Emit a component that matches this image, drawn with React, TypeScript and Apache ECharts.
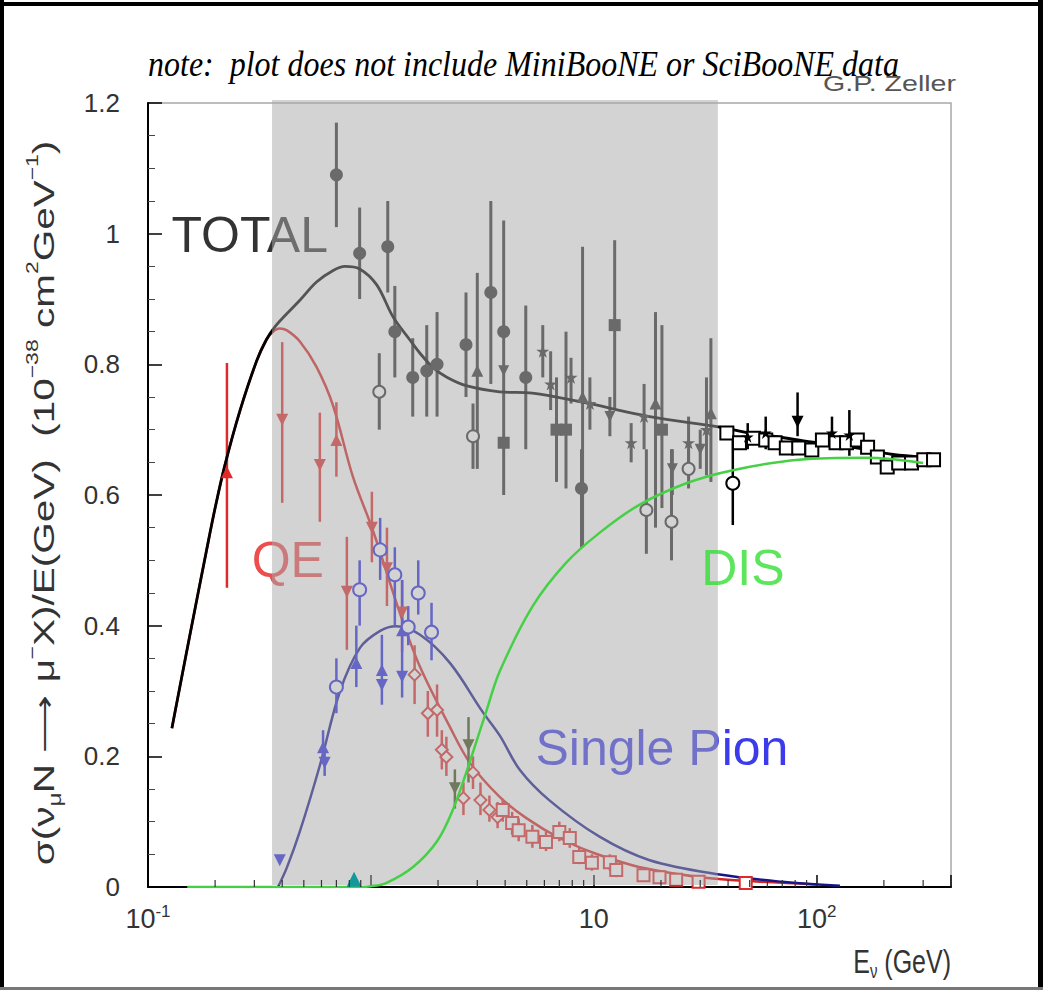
import React, { useEffect, useRef } from "react";
import * as echarts from "echarts";

// ---------------- axis ranges / ticks ----------------
const X_MIN = 0.1;
const X_MAX = 400;
const Y_MIN = 0;
const Y_MAX = 1.2;
const Y_STEP = 0.2;
// labelled decades: exponent -> superscript
const xTickExponents = [-1, 1, 2];
const xTickSupers = ["-1", "", "2"];
const minorTickValues = [
  0.2, 0.3, 0.4, 0.5, 0.6, 0.7, 0.8, 0.9,
  2, 3, 4, 5, 6, 7, 8, 9,
  20, 30, 40, 50, 60, 70, 80, 90,
  200, 300,
];
const shadedRange = [0.36, 36];

// ---------------- model curves [E, sigma/E] ----------------
const totalCurve = [
  [0.128, 0.243], [0.154, 0.385], [0.183, 0.515], [0.2, 0.58], [0.221, 0.645],
  [0.258, 0.728], [0.307, 0.805], [0.34, 0.838], [0.37, 0.857], [0.41, 0.874],
  [0.48, 0.898], [0.57, 0.926], [0.68, 0.944], [0.764, 0.95], [0.89, 0.946],
  [1.06, 0.922], [1.26, 0.872], [1.49, 0.838], [1.66, 0.817], [1.9, 0.795],
  [2.2, 0.78], [2.7, 0.767], [3.78, 0.758], [5.3, 0.756], [8.9, 0.742],
  [17.8, 0.72], [36.7, 0.704], [50, 0.695], [70, 0.688], [100, 0.68],
  [150, 0.672], [220, 0.662], [300, 0.658],
];
const qeCurve = [
  [0.128, 0.243], [0.154, 0.385], [0.183, 0.515], [0.2, 0.58], [0.221, 0.645],
  [0.258, 0.728], [0.307, 0.805], [0.34, 0.838], [0.37, 0.852], [0.39, 0.855],
  [0.42, 0.852], [0.48, 0.835], [0.57, 0.796], [0.676, 0.737], [0.83, 0.628],
  [1.02, 0.546], [1.35, 0.419], [1.66, 0.337], [2.26, 0.245], [2.78, 0.19],
  [3.78, 0.138], [5, 0.105], [7, 0.075], [10, 0.052], [15, 0.033], [20, 0.024],
  [30, 0.015], [50, 0.009], [100, 0.004],
];
const pionCurve = [
  [0.383, 0], [0.42, 0.03], [0.48, 0.085], [0.59, 0.186], [0.727, 0.3],
  [0.893, 0.366], [1.1, 0.392], [1.3, 0.399], [1.66, 0.386], [2.26, 0.343],
  [3.17, 0.268], [3.78, 0.232], [4.66, 0.179], [6.3, 0.133], [10.6, 0.077],
  [17.8, 0.041], [36.7, 0.019], [70, 0.008], [127, 0.002],
];
const disCurve = [
  [0.15, 0], [0.9, 0], [1.0, 0.001], [1.17, 0.006], [1.55, 0.031], [1.98, 0.07],
  [2.33, 0.118], [2.7, 0.179], [3.3, 0.27], [3.78, 0.33], [5.3, 0.429],
  [7.5, 0.496], [10.6, 0.542], [16, 0.585], [26, 0.618], [42, 0.638],
  [83, 0.654], [167, 0.657], [300, 0.649],
];

// ---------------- measurements [E, value, low, high] ----------------
const totFilledCircles = [
  [0.7, 1.09, 1.01, 1.17], [0.89, 0.97, 0.9, 1.04], [1.19, 0.98, 0.91, 1.05],
  [1.28, 0.85, 0.78, 0.92], [1.54, 0.78, 0.72, 0.84], [1.78, 0.79, 0.72, 0.86],
  [1.98, 0.8, 0.72, 0.88], [2.67, 0.83, 0.75, 0.91], [3.45, 0.91, 0.77, 1.05],
  [3.94, 0.85, 0.6, 1.02], [4.95, 0.78, 0.67, 0.89], [8.8, 0.61, 0.52, 0.67],
];
const totOpenCircles = [
  [1.09, 0.758, 0.7, 0.817], [2.87, 0.69, 0.64, 0.74], [17.2, 0.577, 0.51, 0.67],
  [22.3, 0.559, 0.5, 0.67], [26.6, 0.64, 0.61, 0.67],
];
const totFilledSquares = [
  [3.94, 0.68], [6.8, 0.7, 0.62, 0.78], [7.5, 0.7, 0.61, 0.85],
  [12.4, 0.86, 0.73, 0.99], [20.2, 0.7, 0.58, 0.86],
];
const totTrianglesUp = [
  [3.0, 0.79, 0.64, 0.94], [8.9, 0.75, 0.52, 0.98], [18.9, 0.74, 0.55, 0.88],
  [33.5, 0.725, 0.62, 0.84],
];
const totTrianglesDown = [
  [3.94, 0.79], [11.8, 0.72, 0.69, 0.75], [22.5, 0.64, 0.6, 0.67], [30, 0.67, 0.64, 0.7],
];
const totStars = [
  [5.9, 0.82, 0.78, 0.86], [6.4, 0.77, 0.73, 0.82], [7.9, 0.78, 0.74, 0.81],
  [9.6, 0.74, 0.7, 0.78], [14.7, 0.68, 0.65, 0.71], [16.8, 0.72, 0.67, 0.77],
  [26.6, 0.68, 0.63, 0.72], [32, 0.7, 0.63, 0.78],
];
const highOpenCircle = [[42, 0.618, 0.554, 0.684]];
const highOpenSquares = [
  [39.5, 0.695], [45, 0.68], [52, 0.687], [59, 0.684], [65, 0.68], [73, 0.672],
  [83, 0.672], [95, 0.669], [106, 0.684], [122, 0.68], [136, 0.68], [152, 0.684],
  [169, 0.673], [187, 0.658], [207, 0.643], [233, 0.649], [266, 0.649],
  [302, 0.654], [334, 0.654],
];
const highStars = [
  [49, 0.689, 0.67, 0.71], [59, 0.695, 0.67, 0.72], [117, 0.695, 0.67, 0.72],
  [140, 0.692, 0.66, 0.73],
];
const highTriangleDown = [[82, 0.712, 0.69, 0.757]];

const qeTrianglesDown = [
  [0.4, 0.715, 0.588, 0.834], [0.59, 0.646, 0.559, 0.726], [0.78, 0.452, 0.363, 0.536],
  [1.01, 0.55, 0.497, 0.605], [1.18, 0.488, 0.43, 0.55], [1.38, 0.42, 0.36, 0.47],
];
const qeTrianglesUp = [[0.226, 0.635, 0.458, 0.802], [0.7, 0.684, 0.628, 0.742]];
const qeDiamonds = [
  [1.57, 0.325, 0.28, 0.37], [1.8, 0.266, 0.23, 0.3], [1.98, 0.271, 0.23, 0.31],
  [2.08, 0.21, 0.18, 0.24], [2.18, 0.199, 0.17, 0.23], [2.6, 0.136, 0.11, 0.16],
  [2.87, 0.175, 0.15, 0.2], [3.1, 0.133, 0.11, 0.16], [3.4, 0.118, 0.1, 0.14],
  [3.7, 0.107, 0.09, 0.13],
];
const qeSquares = [
  [3.9, 0.118, 0.1, 0.135], [4.3, 0.098, 0.08, 0.115], [4.6, 0.087, 0.07, 0.105],
  [5.3, 0.077, 0.06, 0.095], [6.1, 0.069, 0.055, 0.085], [7.0, 0.084, 0.07, 0.1],
  [7.8, 0.075, 0.06, 0.09], [8.6, 0.046, 0.035, 0.06], [9.8, 0.037, 0.025, 0.05],
  [11.8, 0.038, 0.025, 0.05], [12.6, 0.026, 0.015, 0.04], [16.7, 0.018], [19.7, 0.015],
  [23.4, 0.011], [29.5, 0.008], [48, 0.006],
];

const pionTrianglesDown = [
  [0.39, 0.041], [0.62, 0.19, 0.17, 0.21], [1.12, 0.309, 0.279, 0.386],
  [1.38, 0.322, 0.29, 0.47],
];
const pionTrianglesUp = [
  [0.61, 0.214, 0.19, 0.24], [0.86, 0.343, 0.306, 0.4], [1.12, 0.332], [1.38, 0.393],
];
const pionOpenCircles = [
  [0.7, 0.306, 0.266, 0.35], [0.89, 0.455, 0.4, 0.5], [1.1, 0.516, 0.47, 0.565],
  [1.28, 0.478, 0.4, 0.52], [1.47, 0.398, 0.37, 0.43], [1.63, 0.45, 0.417, 0.5],
  [1.87, 0.39, 0.347, 0.435],
];
const disTriangles = [[2.74, 0.217, 0.16, 0.26], [2.38, 0.151, 0.12, 0.18]];
const tealTriangle = [[0.84, 0.012]];

// ---------------- curve labels ----------------
const labelTexts = ["TOTAL", "QE", "Single Pion", "DIS"];
const labelAnchors = [[0.286, 0.998], [0.424, 0.5], [20.2, 0.213], [46.6, 0.488]];
const labelColors = ["#000000", "#e82020", "#0a0ae6", "#35e035"];

const STAR =
  "path://M50,0L61.8,35.3L99,35.3L69,57.1L80.4,92.7L50,70.9L19.6,92.7L31,57.1L1,35.3L38.2,35.3Z";

const FONT = "Liberation Sans";
const C_TOT = "#2c2c2c";
const C_RED = "#e02a2a";
const C_BLUE = "#2424e0";

const pts = (d: number[][]) => d.map((p) => [p[0], p[1]]);
const bars = (d: number[][]) => d.filter((p) => p.length >= 4).map((p) => [p[0], p[2], p[3]]);

function errSeries(d: number[][], color: string, width: number, z: number) {
  return {
    type: "custom",
    silent: true,
    z,
    data: bars(d),
    encode: { x: 0, y: [1, 2] },
    renderItem: (_p: any, api: any) => {
      const x = api.value(0);
      const a = api.coord([x, api.value(1)]);
      const b = api.coord([x, api.value(2)]);
      return {
        type: "line",
        shape: { x1: a[0], y1: a[1], x2: b[0], y2: b[1] },
        style: { stroke: color, lineWidth: width },
      };
    },
  };
}

function markSeries(
  d: number[][], symbol: string, size: number, color: string, z: number,
  rotate = 0, borderWidth = 0
) {
  return {
    type: "scatter",
    silent: true,
    z,
    data: pts(d),
    symbol,
    symbolSize: size,
    symbolRotate: rotate,
    itemStyle: { color, borderColor: color, borderWidth, opacity: 1 },
  };
}

function curveSeries(d: number[][], color: string, width: number, z: number) {
  return {
    type: "line",
    silent: true,
    z,
    data: d,
    smooth: 0.35,
    showSymbol: false,
    symbol: "none",
    lineStyle: { color, width },
  };
}

function labelSeries(i: number, z: number) {
  return {
    type: "scatter",
    silent: true,
    z,
    data: [labelAnchors[i]],
    symbolSize: 1,
    itemStyle: { color: "rgba(0,0,0,0)" },
    label: {
      show: true,
      position: "inside",
      formatter: labelTexts[i],
      fontFamily: FONT,
      fontSize: 50,
      color: labelColors[i],
    },
  };
}

export default function App() {
  const ref = useRef<HTMLDivElement>(null);

  useEffect(() => {
    const chart = echarts.init(ref.current!, null, { renderer: "svg" });

    const option: any = {
      animation: false,
      backgroundColor: "#ffffff",
      grid: {
        left: 148,
        top: 103,
        width: 803,
        height: 784,
        show: true,
        borderColor: "#a8a8a8",
        borderWidth: 1.5,
        backgroundColor: "transparent",
        containLabel: false,
        outerBoundsMode: "none",
      },
      xAxis: {
        type: "log",
        logBase: 10,
        min: X_MIN,
        max: X_MAX,
        axisLine: { show: true, lineStyle: { color: "#000", width: 2 } },
        axisTick: { show: true, inside: true, length: 12, lineStyle: { color: "#000", width: 1.5 } },
        splitLine: { show: false },
        axisLabel: {
          margin: 16,
          color: "#333",
          formatter: (v: number) => {
            const e = Math.round(Math.log10(v));
            const k = xTickExponents.indexOf(e);
            if (k < 0) return "";
            return xTickSupers[k] ? `{b|10}{s|${xTickSupers[k]}}` : "{b|10}";
          },
          rich: {
            b: { fontSize: 27, fontFamily: FONT, color: "#333", lineHeight: 32 },
            s: { fontSize: 17, fontFamily: FONT, color: "#333", lineHeight: 14, verticalAlign: "top" },
          },
        },
      },
      yAxis: {
        type: "value",
        min: Y_MIN,
        max: Y_MAX,
        interval: Y_STEP,
        axisLine: { show: true, lineStyle: { color: "#000", width: 2 } },
        axisTick: { show: true, inside: true, length: 14, lineStyle: { color: "#000", width: 1.5 } },
        minorTick: { show: true, splitNumber: 4, length: 7, lineStyle: { color: "#444", width: 1 } },
        splitLine: { show: false },
        minorSplitLine: { show: false },
        axisLabel: { fontSize: 26, fontFamily: FONT, color: "#333", margin: 28 },
      },
      graphic: [
        {
          type: "text",
          x: 148,
          y: 64,
          scaleY: 1.12,
          z: 10,
          style: {
            text: "note:  plot does not include MiniBooNE or SciBooNE data",
            fontFamily: "Liberation Serif",
            fontStyle: "italic",
            fontSize: 32,
            fill: "#000",
            align: "left",
            textAlign: "left",
            verticalAlign: "middle",
            textVerticalAlign: "middle",
          },
        },
        {
          type: "text",
          x: 956,
          y: 83,
          scaleX: 1.3,
          z: 10,
          style: {
            text: "G.P. Zeller",
            fontFamily: FONT,
            fontSize: 22,
            fill: "#555",
            align: "right",
            textAlign: "right",
            verticalAlign: "middle",
            textVerticalAlign: "middle",
          },
        },
        {
          type: "text",
          x: 44,
          y: 503,
          rotation: Math.PI / 2,
          scaleX: 1.35,
          z: 10,
          style: {
            text: "σ(ν{sub|μ}N ⟶ μ{sup|−}X)/E(GeV)  (10{sup|−38} cm{sup|2}GeV{sup|−1})",
            fontFamily: FONT,
            fontSize: 30,
            lineHeight: 40,
            fill: "#333",
            align: "center",
            textAlign: "center",
            verticalAlign: "middle",
            textVerticalAlign: "middle",
            rich: {
              sub: { fontFamily: FONT, fontSize: 18, fill: "#333", lineHeight: 22, verticalAlign: "bottom" },
              sup: { fontFamily: FONT, fontSize: 17, fill: "#333", lineHeight: 22, verticalAlign: "top" },
            },
          },
        },
        {
          type: "text",
          x: 951,
          y: 962,
          scaleY: 1.3,
          z: 10,
          style: {
            text: "E{sub|ν} (GeV)",
            fontFamily: FONT,
            fontSize: 25,
            lineHeight: 30,
            fill: "#333",
            align: "right",
            textAlign: "right",
            verticalAlign: "middle",
            textVerticalAlign: "middle",
            rich: {
              sub: { fontFamily: FONT, fontSize: 15, fill: "#333", lineHeight: 16, verticalAlign: "bottom" },
            },
          },
        },
      ],
      series: [
        // model curves (below the shaded overlay)
        curveSeries(qeCurve, "#d42424", 2.5, 2),
        curveSeries(pionCurve, "#16168a", 2.5, 2),
        curveSeries(totalCurve, "#000000", 2.8, 3),

        // error bars
        errSeries([...totFilledCircles, ...totOpenCircles, ...totFilledSquares, ...totTrianglesUp,
          ...totTrianglesDown, ...totStars], C_TOT, 3, 3),
        errSeries([...highOpenCircle, ...highStars, ...highTriangleDown], "#000", 2.5, 3),
        errSeries([...qeTrianglesDown, ...qeTrianglesUp, ...qeDiamonds, ...qeSquares], C_RED, 2.5, 3),
        errSeries([...pionTrianglesDown, ...pionTrianglesUp, ...pionOpenCircles], C_BLUE, 2.5, 3),
        errSeries(disTriangles, "#3a4a10", 2.5, 3),

        // markers
        markSeries(totFilledCircles, "circle", 13, C_TOT, 4),
        markSeries(totOpenCircles, "emptyCircle", 12, C_TOT, 4, 0, 2),
        markSeries(totFilledSquares, "rect", 12, C_TOT, 4),
        markSeries(totTrianglesUp, "triangle", 12, C_TOT, 4),
        markSeries(totTrianglesDown, "triangle", 11, C_TOT, 4, 180),
        markSeries(totStars, STAR, 13, C_TOT, 4),
        markSeries(highOpenSquares, "emptyRect", 13, "#000", 4, 0, 2),
        markSeries(highOpenCircle, "emptyCircle", 13, "#000", 4, 0, 2.5),
        markSeries(highStars, STAR, 12, "#000", 4),
        markSeries(highTriangleDown, "triangle", 12, "#000", 4, 180),
        markSeries(qeTrianglesDown, "triangle", 12, C_RED, 4, 180),
        markSeries(qeTrianglesUp, "triangle", 12, C_RED, 4),
        markSeries(qeDiamonds, "emptyDiamond", 12, C_RED, 4, 0, 2),
        markSeries(qeSquares, "emptyRect", 12, C_RED, 4, 0, 2.5),
        markSeries(pionTrianglesDown, "triangle", 12, C_BLUE, 4, 180),
        markSeries(pionTrianglesUp, "triangle", 12, C_BLUE, 4),
        markSeries(pionOpenCircles, "emptyCircle", 13, C_BLUE, 4, 0, 2),
        markSeries(disTriangles, "triangle", 12, "#3a4a10", 4, 180),

        // curve labels under the overlay
        labelSeries(0, 4),
        labelSeries(1, 4),
        labelSeries(2, 4),

        // shaded energy range overlay
        {
          type: "custom",
          silent: true,
          z: 5,
          data: [[shadedRange[0], Y_MIN, shadedRange[1], Y_MAX]],
          encode: { x: [0, 2], y: [1, 3] },
          renderItem: (_p: any, api: any) => {
            const a = api.coord([api.value(0), api.value(3)]);
            const b = api.coord([api.value(2), api.value(1)]);
            return {
              type: "rect",
              shape: { x: a[0], y: a[1] - 3, width: b[0] - a[0], height: b[1] - a[1] + 1 },
              style: { fill: "rgba(168,168,168,0.5)" },
            };
          },
        },

        // above overlay
        curveSeries(disCurve, "#45d045", 2.5, 6),
        labelSeries(3, 6),
        markSeries(tealTriangle, "triangle", 15, "#129a9a", 6),

        // log minor ticks along the bottom axis
        {
          type: "custom",
          silent: true,
          z: 7,
          data: minorTickValues.map((v) => [v, Y_MIN]),
          encode: { x: 0, y: 1 },
          renderItem: (_p: any, api: any) => {
            const p = api.coord([api.value(0), api.value(1)]);
            return {
              type: "line",
              shape: { x1: p[0], y1: p[1], x2: p[0], y2: p[1] - 7 },
              style: { stroke: "#333", lineWidth: 1.2 },
            };
          },
        },
      ],
    };

    chart.setOption(option);
    return () => chart.dispose();
  }, []);

  return (
    <div
      style={{
        position: "absolute",
        left: 0,
        top: 0,
        width: 1043,
        height: 995,
        background: "#fff",
        overflow: "hidden",
      }}
    >
      <div ref={ref} style={{ position: "absolute", left: 0, top: 0, width: 1043, height: 995 }} />
      <div style={{ position: "absolute", left: 0, top: 2, width: 1043, height: 4, background: "#000" }} />
      <div style={{ position: "absolute", left: 0, top: 0, width: 4, height: 990, background: "#000" }} />
      <div style={{ position: "absolute", left: 1038, top: 0, width: 5, height: 990, background: "#000" }} />
      <div style={{ position: "absolute", left: 0, top: 987, width: 1043, height: 3, background: "#777" }} />
    </div>
  );
}
